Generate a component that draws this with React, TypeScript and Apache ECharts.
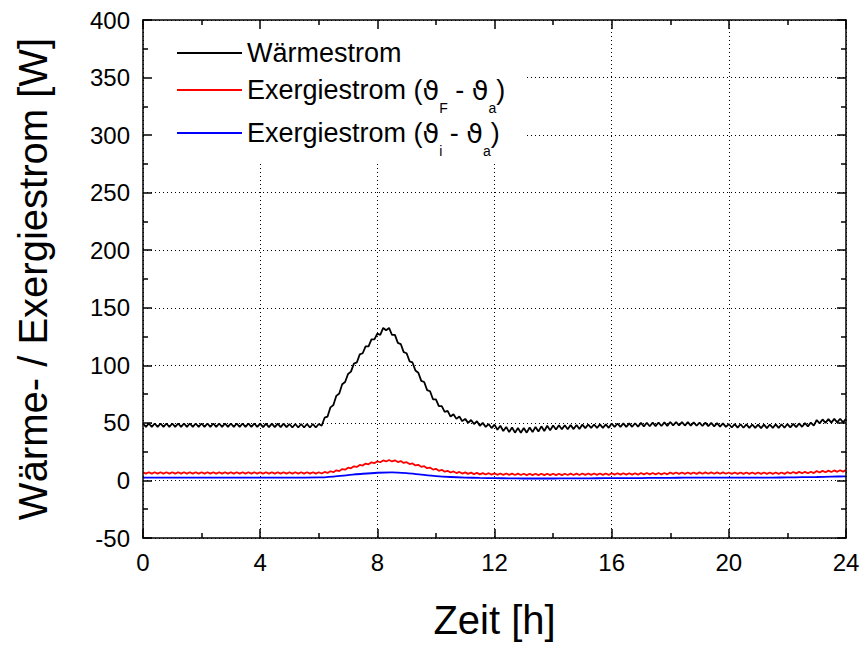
import { useEffect, useRef } from "react";
import * as echarts from "echarts";

const FONT = '"Liberation Sans", Arial, Helvetica, sans-serif';
const GREEK_FONT = '"DejaVu Sans", "Liberation Sans", sans-serif';

const X_MIN = 0;
const X_MAX = 24;
const X_INTERVAL = 4;
const Y_MIN = -50;
const Y_MAX = 400;
const Y_INTERVAL = 50;

const SERIES_NAMES = [
  "Wärmestrom",
  "Exergiestrom (ϑF - ϑa)",
  "Exergiestrom (ϑi - ϑa)",
];

// sampled every 0.1 h
const heatFlow = [
  49.5, 46.5, 49.5, 46.5, 49.5, 46.5, 49.5, 46.5, 49.5, 46.5,
  49.5, 46.5, 49.5, 46.5, 49.5, 46.5, 49.5, 46.5, 49.5, 46.5,
  49.5, 46.5, 49.5, 46.5, 49.5, 46.5, 49.5, 46.5, 49.5, 46.5,
  49.5, 46.5, 49.5, 46.5, 49.5, 46.5, 49.5, 46.5, 49.5, 46.5,
  49.3, 46.3, 49.3, 46.3, 49.3, 46.3, 49.3, 46.3, 49.3, 46.3,
  49, 46, 49, 46, 49, 46, 49, 46, 49, 46,
  49, 47.5, 54.5, 55.5, 63.5, 65.5, 73.5, 75.5, 83.5, 85.5,
  92.5, 94.5, 101.5, 102.5, 109.5, 110.5, 116.5, 116.5, 122.5, 122.5,
  127.5, 126.5, 132.5, 130.5, 132.5, 126.5, 126.5, 119.5, 118.5, 111.5,
  110.5, 103.5, 102.5, 95.5, 93.5, 86.5, 85.5, 78.5, 77.5, 70.5,
  70.5, 64.5, 64.5, 59.5, 60.5, 55.5, 57.5, 53.5, 55.5, 51.5,
  53.5, 50, 52.5, 49, 51.5, 47.5, 50, 46.5, 49, 45.5,
  48.5, 44, 47.5, 43, 46.5, 42, 46, 41.5, 45.5, 41.5,
  45.5, 41.5, 46, 42, 46.5, 42.5, 47, 43, 47.5, 43.5,
  47.8, 44.3, 48, 44.4, 48, 44.5, 48.1, 44.6, 48.2, 44.7,
  48.5, 45.5, 48.6, 45.6, 48.6, 45.6, 48.7, 45.7, 48.7, 45.7,
  49.5, 46.5, 49.5, 46.5, 49.6, 46.6, 49.6, 46.6, 49.7, 46.7,
  50, 47, 50.1, 47.1, 50.2, 47.2, 50.3, 47.3, 50.4, 47.4,
  50.8, 47.8, 50.8, 47.8, 50.7, 47.7, 50.6, 47.6, 50.5, 47.5,
  50.3, 47.3, 50.2, 47.2, 50, 47, 49.8, 46.8, 49.6, 46.6,
  49, 46, 48.9, 45.9, 48.8, 45.8, 48.7, 45.7, 48.6, 45.6,
  48.5, 45.5, 48.5, 45.5, 48.6, 45.6, 48.7, 45.7, 48.8, 45.8,
  49, 46.1, 49.2, 46.3, 49.5, 46.6, 49.8, 47, 50.3, 47.6,
  52.5, 49.6, 53, 50, 53.3, 50.2, 53.5, 50.4, 53.6, 50.5,
  53.5,
];

// sampled every 0.1 h
const exergyFlowF = [
  7.1, 5.9, 7.1, 5.9, 7.1, 5.9, 7.1, 5.9, 7.1, 5.9,
  7.1, 5.9, 7.1, 5.9, 7.1, 5.9, 7.1, 5.9, 7.1, 5.9,
  7.1, 5.9, 7.1, 5.9, 7.1, 5.9, 7.1, 5.9, 7.1, 5.9,
  7.1, 5.9, 7.1, 5.9, 7.1, 5.9, 7.1, 5.9, 7.1, 5.9,
  7.1, 5.9, 7.1, 5.9, 7.1, 5.9, 7.1, 5.9, 7.1, 5.9,
  7.1, 5.9, 7.1, 5.9, 7.1, 5.9, 7.1, 5.9, 7.1, 5.9,
  7.1, 6.0, 7.4, 6.5, 8.0, 7.2, 8.8, 8.1, 9.9, 9.3,
  11.1, 10.5, 12.3, 11.7, 13.5, 12.9, 14.7, 14.0, 15.7, 15.0,
  16.6, 15.8, 17.4, 16.5, 17.8, 16.5, 17.5, 16.0, 16.8, 15.2,
  15.9, 14.2, 14.8, 13.0, 13.6, 11.8, 12.4, 10.6, 11.2, 9.4,
  10.1, 8.4, 9.2, 7.6, 8.4, 6.9, 7.8, 6.4, 7.4, 6.0,
  7.0, 5.7, 6.8, 5.5, 6.6, 5.3, 6.4, 5.2, 6.3, 5.1,
  6.1, 4.9, 6.0, 4.8, 6.0, 4.8, 5.9, 4.7, 5.9, 4.7,
  5.8, 4.6, 5.8, 4.6, 5.8, 4.6, 5.8, 4.6, 5.8, 4.6,
  5.8, 4.6, 5.8, 4.6, 5.8, 4.7, 5.9, 4.7, 5.9, 4.7,
  6.0, 4.8, 6.0, 4.8, 6.0, 4.8, 6.0, 4.8, 6.0, 4.8,
  6.2, 5.0, 6.2, 5.0, 6.2, 5.0, 6.2, 5.0, 6.2, 5.0,
  6.5, 5.3, 6.5, 5.3, 6.5, 5.3, 6.5, 5.3, 6.5, 5.3,
  6.9, 5.7, 6.9, 5.7, 6.9, 5.7, 6.9, 5.7, 6.9, 5.7,
  7.0, 5.8, 7.0, 5.8, 7.0, 5.8, 7.0, 5.8, 7.0, 5.8,
  6.9, 5.7, 6.9, 5.7, 6.9, 5.7, 6.9, 5.7, 6.9, 5.7,
  6.9, 5.7, 6.9, 5.7, 6.9, 5.7, 6.9, 5.7, 6.9, 5.7,
  7.2, 6.0, 7.3, 6.1, 7.4, 6.2, 7.5, 6.3, 7.6, 6.4,
  8.1, 6.9, 8.3, 7.1, 8.5, 7.3, 8.7, 7.5, 8.9, 7.7,
  9.0,
];

// sampled every 0.5 h
const exergyFlowI = [
  2.5, 2.5, 2.5, 2.5, 2.5, 2.5, 2.5, 2.5, 2.5, 2.5, 2.5, 2.5,
  2.6, 3.4, 4.6, 5.8, 6.7, 7.0, 6.3, 5.0, 3.8, 3.0, 2.5, 2.2,
  2.0, 1.8, 1.7, 1.7, 1.7, 1.8, 1.8, 1.9, 2.0, 2.0, 2.1, 2.2,
  2.3, 2.4, 2.4, 2.4, 2.4, 2.4, 2.4, 2.5, 2.6, 2.8, 3.0, 3.3,
  3.6,
];

const FINE_STEP = 0.1;
const COARSE_STEP = 0.5;

const toPairs = (values: number[], step: number) =>
  values.map((v, i) => [Math.round(i * step * 100) / 100, v]);

const axisBase = (min: number, max: number, interval: number) => ({
  type: "value" as const,
  min,
  max,
  interval,
  axisLine: { show: true, onZero: false, lineStyle: { color: "#000", width: 1.5 } },
  axisTick: { show: true, inside: true, length: 9, lineStyle: { color: "#000", width: 1.5 } },
  minorTick: { show: true, splitNumber: 2, length: 5, lineStyle: { color: "#000", width: 1.5 } },
  splitLine: { show: false },
  z: 3,
});

const splitAxis = (min: number, max: number, interval: number) => ({
  type: "value" as const,
  min,
  max,
  interval,
  axisLine: { show: false },
  axisTick: { show: false },
  axisLabel: { show: false },
  splitLine: { show: true, lineStyle: { color: "#000", width: 1, type: [1, 3] } },
  z: 0,
});

const xLabelStyle = { fontSize: 24, color: "#000", fontFamily: FONT, margin: 12 };
const yLabelStyle = { fontSize: 24, color: "#000", fontFamily: FONT, margin: 13 };

const legendRich = {
  th: { fontSize: 27, lineHeight: 30, color: "#000", fontFamily: GREEK_FONT },
  sub: {
    fontSize: 14,
    lineHeight: 14,
    color: "#000",
    fontFamily: FONT,
    padding: [36, 0, 0, 0],
  },
};

const legendFor = (name: string, top: number) => ({
  data: [name],
  orient: "vertical",
  left: 177,
  top,
  padding: 0,
  icon: "rect",
  itemWidth: 65,
  itemHeight: 2,
  z: 4,
  selectedMode: false,
  textStyle: {
    fontSize: 27,
    lineHeight: 30,
    color: "#000",
    fontFamily: FONT,
    rich: legendRich,
  },
  formatter: (n: string) => {
    if (n === SERIES_NAMES[1]) return "Exergiestrom ({th|ϑ}{sub|F} - {th|ϑ}{sub|a})";
    if (n === SERIES_NAMES[2]) return "Exergiestrom ({th|ϑ}{sub|i} - {th|ϑ}{sub|a})";
    return n;
  },
});

export default function App() {
  const ref = useRef<HTMLDivElement>(null);
  useEffect(() => {
    const chart = echarts.init(ref.current!, null, { renderer: "svg" });
    chart.setOption({
      animation: false,
      backgroundColor: "#fff",
      textStyle: { fontFamily: FONT },
      grid: { left: 143, right: 17, top: 20, bottom: 104, containLabel: false },
      xAxis: [
        {
          ...axisBase(X_MIN, X_MAX, X_INTERVAL),
          position: "bottom",
          axisLabel: xLabelStyle,
          name: "Zeit [h]",
          nameLocation: "middle",
          nameGap: 62,
          nameTextStyle: { fontSize: 40, color: "#000", fontFamily: FONT },
        },
        { ...axisBase(X_MIN, X_MAX, X_INTERVAL), position: "top", axisLabel: { show: false } },
        { ...splitAxis(X_MIN, X_MAX, X_INTERVAL), position: "bottom" },
      ],
      yAxis: [
        {
          ...axisBase(Y_MIN, Y_MAX, Y_INTERVAL),
          position: "left",
          axisLabel: yLabelStyle,
          name: "Wärme- / Exergiestrom [W]",
          nameLocation: "middle",
          nameRotate: 90,
          nameGap: 90,
          nameTextStyle: { fontSize: 40, color: "#000", fontFamily: FONT },
        },
        { ...axisBase(Y_MIN, Y_MAX, Y_INTERVAL), position: "right", axisLabel: { show: false } },
        { ...splitAxis(Y_MIN, Y_MAX, Y_INTERVAL), position: "left" },
      ],
      graphic: {
        elements: [
          {
            type: "rect",
            z: 1,
            shape: { x: 145, y: 22, width: 382, height: 141 },
            style: { fill: "#fff" },
            silent: true,
          },
        ],
      },
      legend: [
        legendFor(SERIES_NAMES[0], 38),
        legendFor(SERIES_NAMES[1], 65),
        legendFor(SERIES_NAMES[2], 108),
      ],
      series: [
        {
          name: SERIES_NAMES[0],
          type: "line",
          xAxisIndex: 0,
          yAxisIndex: 0,
          data: toPairs(heatFlow, FINE_STEP),
          showSymbol: false,
          symbol: "none",
          lineStyle: { color: "#000", width: 1.8 },
          itemStyle: { color: "#000" },
          z: 2,
        },
        {
          name: SERIES_NAMES[1],
          type: "line",
          xAxisIndex: 0,
          yAxisIndex: 0,
          data: toPairs(exergyFlowF, FINE_STEP),
          showSymbol: false,
          symbol: "none",
          lineStyle: { color: "#ff0000", width: 1.8 },
          itemStyle: { color: "#ff0000" },
          z: 2,
        },
        {
          name: SERIES_NAMES[2],
          type: "line",
          xAxisIndex: 0,
          yAxisIndex: 0,
          data: toPairs(exergyFlowI, COARSE_STEP),
          showSymbol: false,
          symbol: "none",
          smooth: 0.3,
          lineStyle: { color: "#0000ff", width: 1.8 },
          itemStyle: { color: "#0000ff" },
          z: 2,
        },
      ],
    });
    return () => chart.dispose();
  }, []);
  return (
    <div
      ref={ref}
      style={{ position: "absolute", left: 0, top: 0, width: 863, height: 645 }}
    />
  );
}
